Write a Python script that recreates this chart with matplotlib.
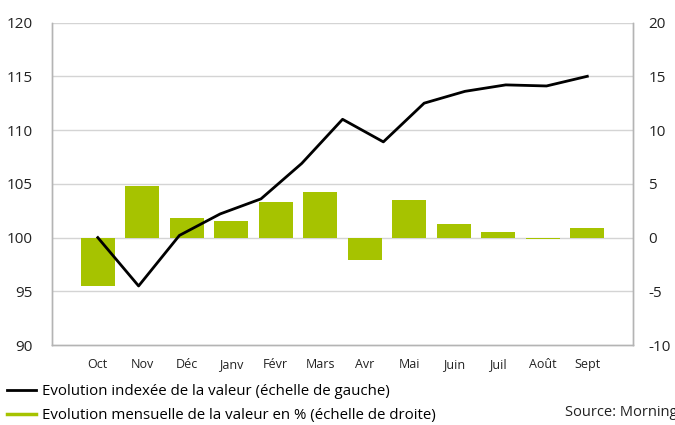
import numpy as np
import matplotlib
matplotlib.use('Agg')
import matplotlib.pyplot as plt
from matplotlib.lines import Line2D

plt.rcParams['font.family'] = ['Open Sans', 'DejaVu Sans']
plt.rcParams['axes.unicode_minus'] = False

# data
months = ['Oct', 'Nov', 'Déc', 'Janv', 'Févr', 'Mars', 'Avr', 'Mai', 'Juin', 'Juil', 'Août', 'Sept']
monthly_pct = [-4.5, 4.8, 1.85, 1.5, 3.35, 4.2, -2.1, 3.5, 1.25, 0.55, -0.1, 0.85]
index_values = [100.0, 95.5, 100.2, 102.2, 103.6, 106.9, 111.0, 108.9, 112.5, 113.6, 114.2, 114.1, 115.0]

green = '#a6c300'
grid_col = '#d4d4d4'
spine_col = '#b4b4b4'
txt_col = '#222222'

fig = plt.figure(figsize=(6.75, 4.25), dpi=100)
ax = fig.add_axes([0.077, 0.188, 0.861, 0.759])
ax2 = ax.twinx()

x = np.arange(len(months))
# line has its own points spread over the months
x_line = np.linspace(0, len(months) - 1, len(index_values))

ax2.bar(x, monthly_pct, width=0.76, color=green, zorder=2)
ax.plot(x_line, index_values, color='black', lw=2, zorder=3)

ax.set_zorder(ax2.get_zorder() + 1)
ax.patch.set_visible(False)

ax.set_xlim(-1.03, 12.03)
ax.set_ylim(90, 120)
ax2.set_ylim(-10, 20)
ax.set_yticks(np.arange(90, 121, 5))
ax2.set_yticks(np.arange(-10, 21, 5))
ax.set_xticks(x)
ax.set_xticklabels(months, fontsize=9, color=txt_col)

for y in np.arange(95, 121, 5):
    ax2.axhline(y - 100, color=grid_col, lw=1, zorder=1)

ax.tick_params(axis='y', length=0, pad=14, labelsize=11, colors=txt_col)
ax2.tick_params(axis='y', length=0, pad=11, labelsize=11, colors=txt_col)
ax.tick_params(axis='x', length=0, pad=9)
for a in (ax, ax2):
    a.spines['top'].set_visible(False)
    for s in ('left', 'right', 'bottom'):
        a.spines[s].set_color(spine_col)
        a.spines[s].set_linewidth(1)

handles = [Line2D([0], [0], color='black', lw=2),
           Line2D([0], [0], color=green, lw=2.5)]
labels = ['Evolution indexée de la valeur (échelle de gauche)',
          'Evolution mensuelle de la valeur en % (échelle de droite)']
fig.legend(handles, labels, loc='upper left', bbox_to_anchor=(0.0104, 0.097),
           frameon=False, fontsize=10.8, handlelength=1.9, handletextpad=0.4,
           labelspacing=0.62, borderaxespad=0, borderpad=0)
fig.text(0.837, 0.022, 'Source: Morningstar', fontsize=10.5, color=txt_col)

fig.savefig('out.png', dpi=100)
